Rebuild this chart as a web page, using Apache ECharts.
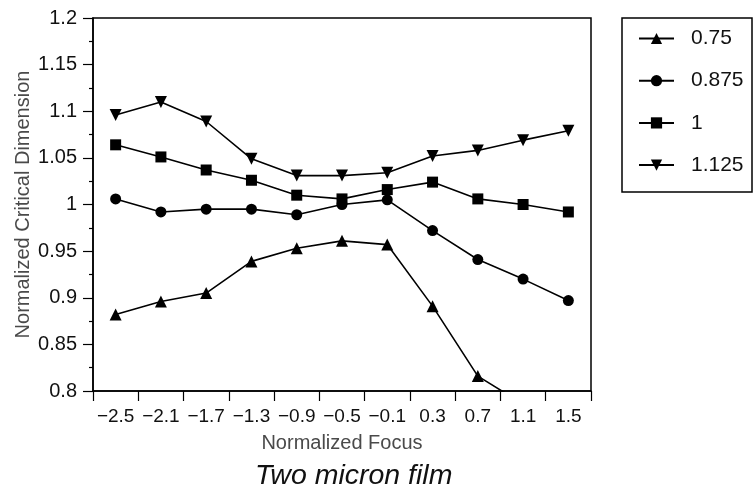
<!DOCTYPE html>
<html>
<head>
<meta charset="utf-8">
<script src="https://cdn.jsdelivr.net/npm/echarts@6/dist/echarts.min.js"></script>
<style>
  html, body { margin: 0; padding: 0; background: #fff; }
  #chart { width: 753px; height: 498px; }
</style>
</head>
<body>
<div id="chart"></div>
<script>
// Normalized focus positions (x categories)
const focus = ['-2.5', '-2.1', '-1.7', '-1.3', '-0.9', '-0.5', '-0.1', '0.3', '0.7', '1.1', '1.5'];

// Normalized critical dimension for each feature size
const cd075  = [0.882, 0.896, 0.905, 0.939, 0.953, 0.961, 0.957, 0.891, 0.816, 0.786, null];
const cd0875 = [1.006, 0.992, 0.995, 0.995, 0.989, 1.000, 1.005, 0.972, 0.941, 0.920, 0.897];
const cd100  = [1.064, 1.051, 1.037, 1.026, 1.010, 1.006, 1.016, 1.024, 1.006, 1.000, 0.992];
const cd1125 = [1.096, 1.110, 1.089, 1.049, 1.031, 1.031, 1.034, 1.052, 1.058, 1.069, 1.079];

const seriesNames = ['0.75', '0.875', '1', '1.125'];

const FONT = '"Liberation Sans", Arial, Helvetica, sans-serif';
const chart = echarts.init(document.getElementById('chart'), null, { renderer: 'canvas' });

function lineSeries(name, data, symbol, size, rotate) {
  return {
    name: name,
    type: 'line',
    data: data,
    symbol: symbol,
    symbolSize: size,
    symbolRotate: rotate || 0,
    showAllSymbol: true,
    clip: true,
    connectNulls: false,
    lineStyle: { color: '#000', width: 1.6 },
    itemStyle: { color: '#000' },
    emphasis: { disabled: true },
    z: 3
  };
}

chart.setOption({
  animation: false,
  backgroundColor: '#fff',
  textStyle: { fontFamily: FONT },
  title: {
    text: 'Two micron film',
    left: 255,
    top: 462,
    padding: 0,
    textStyle: {
      fontFamily: FONT,
      fontStyle: 'italic',
      fontWeight: 'normal',
      fontSize: 28.5,
      color: '#111'
    }
  },
  grid: {
    left: 93,
    top: 18,
    right: 162,
    bottom: 107,
    show: true,
    borderColor: '#000',
    borderWidth: 1.5,
    containLabel: false
  },
  legend: {
    orient: 'vertical',
    left: 638,
    top: 28,
    padding: 0,
    itemWidth: 35,
    itemHeight: 14,
    itemGap: 21.2,
    data: seriesNames,
    selectedMode: false,
    textStyle: {
      fontFamily: FONT,
      fontSize: 21,
      color: '#111',
      lineHeight: 14,
      padding: [0, 0, 0, 12]
    }
  },
  graphic: [{
    type: 'rect',
    shape: { x: 622, y: 18, width: 130, height: 174 },
    style: { fill: 'none', stroke: '#000', lineWidth: 1.5 },
    silent: true
  }],
  xAxis: {
    type: 'category',
    data: focus,
    boundaryGap: true,
    name: 'Normalized Focus',
    nameLocation: 'middle',
    nameGap: 42,
    nameMoveOverlap: false,
    nameTextStyle: { fontFamily: FONT, fontSize: 20, color: '#4a4a4a' },
    axisLine: { show: true, lineStyle: { color: '#000', width: 1.5 } },
    axisTick: { show: true, alignWithLabel: false, length: 10, lineStyle: { color: '#000', width: 1.2 } },
    axisLabel: {
      margin: 16,
      fontFamily: FONT,
      fontSize: 19,
      color: '#111',
      interval: 0,
      formatter: v => v.replace('-', '\u2212')
    },
    splitLine: { show: false }
  },
  yAxis: {
    type: 'value',
    min: 0.8,
    max: 1.2,
    interval: 0.05,
    name: 'Normalized Critical Dimension',
    nameLocation: 'middle',
    nameGap: 60,
    nameMoveOverlap: false,
    nameTextStyle: { fontFamily: FONT, fontSize: 20, color: '#4a4a4a' },
    axisLine: { show: true, lineStyle: { color: '#000', width: 1.5 } },
    axisTick: { show: true, length: 10, lineStyle: { color: '#000', width: 1.2 } },
    minorTick: { show: true, splitNumber: 2, length: 4, lineStyle: { color: '#000', width: 1.2 } },
    axisLabel: {
      margin: 16,
      fontFamily: FONT,
      fontSize: 20,
      color: '#111',
      formatter: v => String(Math.round(v * 1000) / 1000)
    },
    splitLine: { show: false }
  },
  series: [
    lineSeries('0.75', cd075, 'triangle', 12),
    lineSeries('0.875', cd0875, 'circle', 11),
    lineSeries('1', cd100, 'rect', 11),
    lineSeries('1.125', cd1125, 'triangle', 12, 180)
  ]
});
</script>
</body>
</html>
